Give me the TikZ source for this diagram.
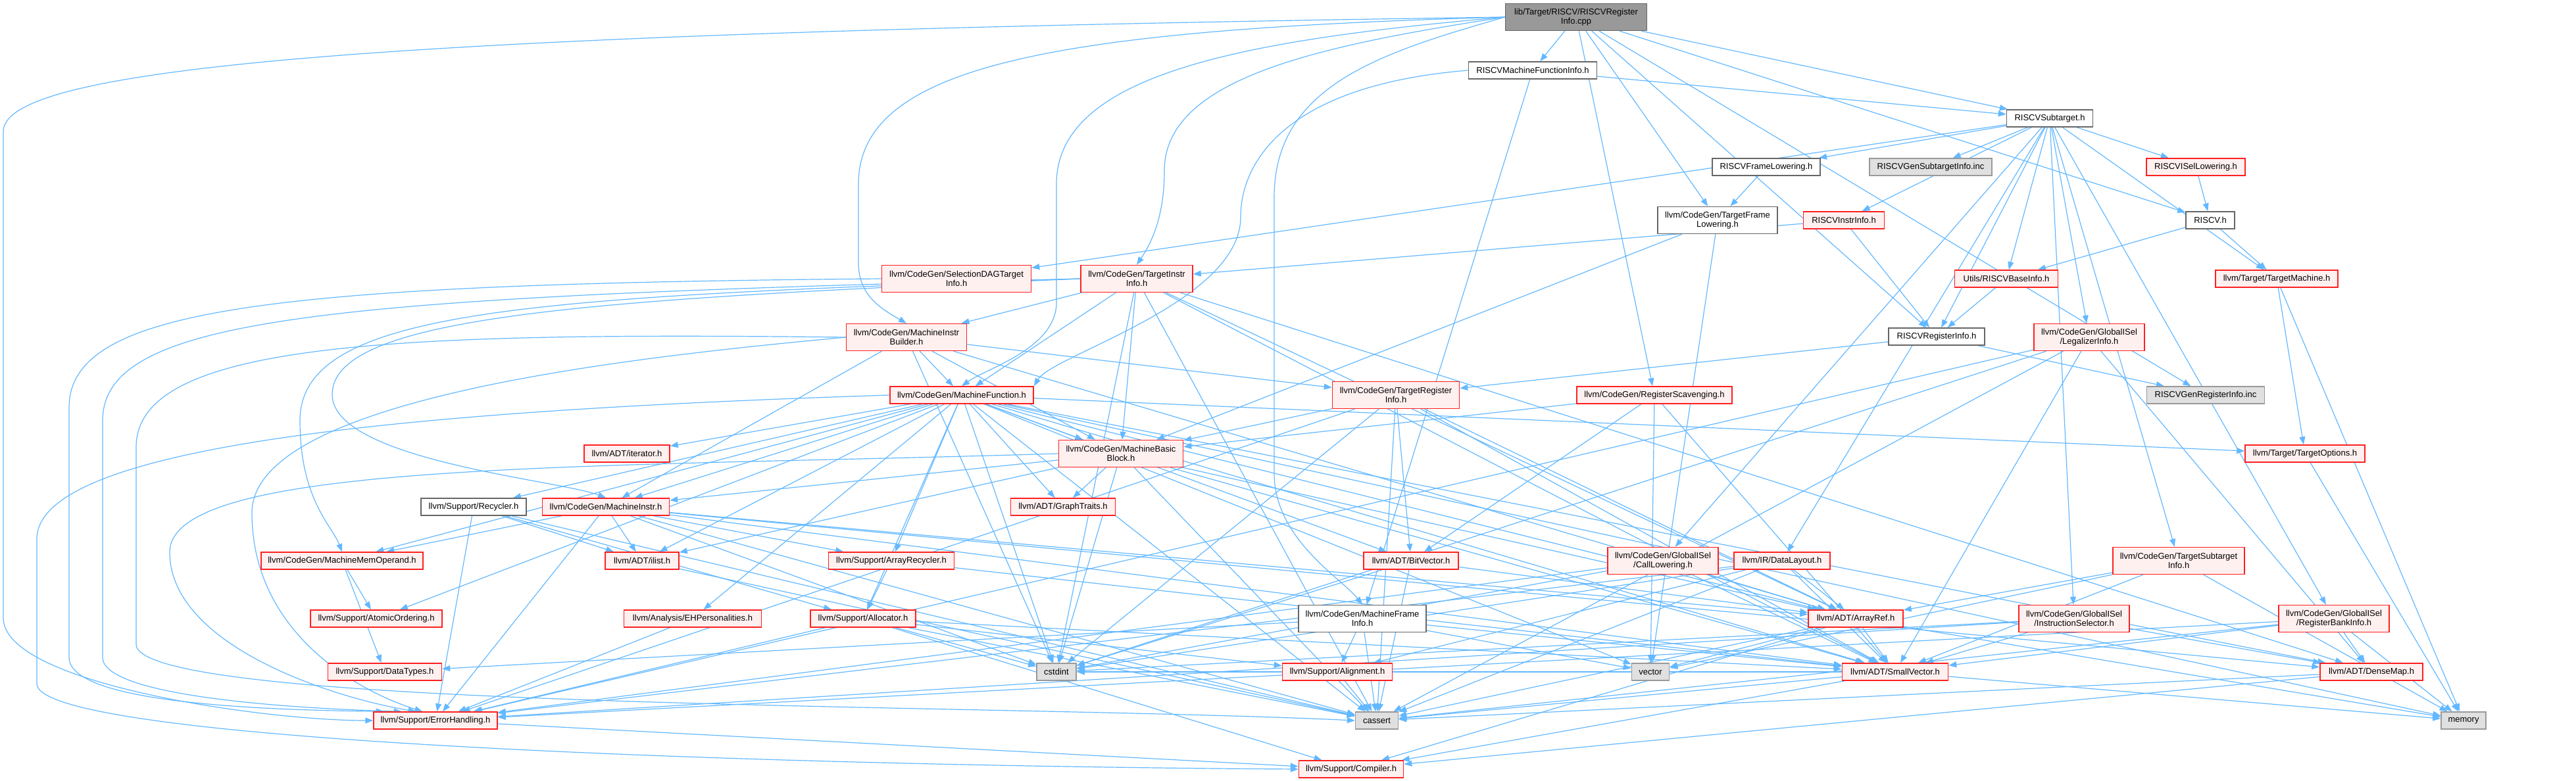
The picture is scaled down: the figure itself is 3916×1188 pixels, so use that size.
\documentclass[tikz,border=0pt]{standalone}
\usepackage{fontspec}
\setmainfont{Liberation Sans}
\usetikzlibrary{arrows.meta}
\definecolor{edgec}{HTML}{63B8FF}
\definecolor{redb}{HTML}{FF2020}
\definecolor{redf}{HTML}{FFF0F0}
\definecolor{grayb}{HTML}{666666}
\definecolor{grayf}{HTML}{999999}
\definecolor{lgrayb}{HTML}{999999}
\definecolor{lgrayf}{HTML}{E0E0E0}
\pgfdeclarelayer{bg}
\pgfsetlayers{bg,main}
\tikzset{
  nd/.style={draw, line width=1.5pt, inner sep=0pt, minimum height=26pt, align=center,
    font=\fontsize{13}{14.5}\selectfont},
  tall/.style={minimum height=41pt},
  nred/.style={nd, draw=redb, fill=redf},
  nwhite/.style={nd, draw=grayb, fill=white},
  nroot/.style={nd, draw=grayb, fill=grayf},
  ngray/.style={nd, draw=lgrayb, fill=lgrayf},
  ed/.style={draw=edgec, line width=1.2pt, -{Triangle[length=12pt,width=9pt]}}
}
\begin{document}
\begin{tikzpicture}[x=1pt,y=-1pt]
\useasboundingbox (0,0) rectangle (3916,1188);
% nodes
\node[nroot, tall, minimum width=215pt] (root) at (2396,26) {lib/Target/RISCV/RISCVRegister\\Info.cpp};
\node[nwhite, minimum width=195pt] (rmfi) at (2330,107) {RISCVMachineFunctionInfo.h};
\node[nwhite, minimum width=131pt] (rst) at (3116,180) {RISCVSubtarget.h};
\node[nwhite, minimum width=164pt] (rfl) at (2685,254) {RISCVFrameLowering.h};
\node[ngray, minimum width=186pt] (rgsi) at (2935,254) {RISCVGenSubtargetInfo.inc};
\node[nred, minimum width=150pt] (risl) at (3338,254) {RISCVISelLowering.h};
\node[nwhite, tall, minimum width=182pt] (tfl) at (2611,335) {llvm/CodeGen/TargetFrame\\Lowering.h};
\node[nred, minimum width=123pt] (rii) at (2803,335) {RISCVInstrInfo.h};
\node[nwhite, minimum width=74pt] (riscv) at (3360,335) {RISCV.h};
\node[nred, tall, minimum width=227pt] (sdti) at (1454,424) {llvm/CodeGen/SelectionDAGTarget\\Info.h};
\node[nred, tall, minimum width=170pt] (tii) at (1728,424) {llvm/CodeGen/TargetInstr\\Info.h};
\node[nred, minimum width=157pt] (rbi) at (3050,424) {Utils/RISCVBaseInfo.h};
\node[nred, minimum width=186pt] (tm) at (3461,424) {llvm/Target/TargetMachine.h};
\node[nred, tall, minimum width=183pt] (mib) at (1378,513) {llvm/CodeGen/MachineInstr\\Builder.h};
\node[nwhite, minimum width=146pt] (rri) at (2944,512) {RISCVRegisterInfo.h};
\node[nred, tall, minimum width=168pt] (li) at (3176,513) {llvm/CodeGen/GlobalISel\\/LegalizerInfo.h};
\node[nred, tall, minimum width=193pt] (trgi) at (2122,601) {llvm/CodeGen/TargetRegister\\Info.h};
\node[nred, minimum width=236pt] (rs) at (2515,601) {llvm/CodeGen/RegisterScavenging.h};
\node[ngray, minimum width=179pt] (rgri) at (3353,601) {RISCVGenRegisterInfo.inc};
\node[nred, minimum width=218pt] (mf) at (1462,601) {llvm/CodeGen/MachineFunction.h};
\node[nred, minimum width=130pt] (iter) at (953,690) {llvm/ADT/iterator.h};
\node[nred, minimum width=182pt] (tops) at (3504,690) {llvm/Target/TargetOptions.h};
\node[nred, tall, minimum width=189pt] (mbb) at (1704,690) {llvm/CodeGen/MachineBasic\\Block.h};
\node[nwhite, minimum width=160pt] (rec) at (720,771) {llvm/Support/Recycler.h};
\node[nred, minimum width=193pt] (mi) at (921,771) {llvm/CodeGen/MachineInstr.h};
\node[nred, minimum width=159pt] (gt) at (1616,771) {llvm/ADT/GraphTraits.h};
\node[nred, minimum width=246pt] (mmo) at (520,853) {llvm/CodeGen/MachineMemOperand.h};
\node[nred, minimum width=112pt] (ilist) at (976,853) {llvm/ADT/ilist.h};
\node[nred, minimum width=191pt] (arec) at (1355,853) {llvm/Support/ArrayRecycler.h};
\node[nred, minimum width=144pt] (bv) at (2145,853) {llvm/ADT/BitVector.h};
\node[nred, tall, minimum width=168pt] (cl) at (2528,853) {llvm/CodeGen/GlobalISel\\/CallLowering.h};
\node[nred, minimum width=146pt] (dl) at (2709,853) {llvm/IR/DataLayout.h};
\node[nred, tall, minimum width=200pt] (tsi) at (3312,853) {llvm/CodeGen/TargetSubtarget\\Info.h};
\node[nred, minimum width=200pt] (ao) at (572,941) {llvm/Support/AtomicOrdering.h};
\node[nred, minimum width=209pt] (ehp) at (1053,941) {llvm/Analysis/EHPersonalities.h};
\node[nred, minimum width=160pt] (alloc) at (1312,941) {llvm/Support/Allocator.h};
\node[nwhite, tall, minimum width=194pt] (mfi) at (2071,941) {llvm/CodeGen/MachineFrame\\Info.h};
\node[nred, minimum width=144pt] (ar) at (2821,941) {llvm/ADT/ArrayRef.h};
\node[nred, tall, minimum width=168pt] (is) at (3153,941) {llvm/CodeGen/GlobalISel\\/InstructionSelector.h};
\node[nred, tall, minimum width=168pt] (rbki) at (3548,941) {llvm/CodeGen/GlobalISel\\/RegisterBankInfo.h};
\node[nred, minimum width=173pt] (dt) at (585,1022) {llvm/Support/DataTypes.h};
\node[ngray, minimum width=60pt] (cstdint) at (1606,1022) {cstdint};
\node[nred, minimum width=167pt] (align) at (2033,1022) {llvm/Support/Alignment.h};
\node[ngray, minimum width=57pt] (vector) at (2509,1022) {vector};
\node[nred, minimum width=161pt] (sv) at (2881,1022) {llvm/ADT/SmallVector.h};
\node[nred, minimum width=156pt] (dm) at (3605,1022) {llvm/ADT/DenseMap.h};
\node[nred, minimum width=188pt] (eh) at (662,1096) {llvm/Support/ErrorHandling.h};
\node[ngray, minimum width=65pt] (cassert) at (2093,1096) {cassert};
\node[ngray, minimum width=68pt] (memory) at (3745,1096) {memory};
\node[nred, minimum width=159pt] (comp) at (2054,1170) {llvm/Support/Compiler.h};
% edges
\begin{pgfonlayer}{bg}
\foreach \a/\b in {
 root/rmfi, root/rst, root/riscv, root/rri, root/tfl, root/rs, root/rgri,
 rmfi/rst, rmfi/mfi,
 rst/rfl, rst/rgsi, rst/risl, rst/rii, rst/rbi, rst/tm, rst/li, rst/cl, rst/is, rst/rbki, rst/tsi, rst/dl, rst/sdti, rst/rri,
 risl/riscv, riscv/rbi, riscv/tm, rfl/tfl, rii/rri, rii/tii, rbi/rri, tm/tops, tm/memory,
 rri/trgi, rri/rgri,
 li/sv, li/dm, li/cstdint, li/eh, li/cassert,
 tfl/mbb, tfl/vector,
 tii/mib, tii/mf, tii/mbb, tii/ar, tii/dm, tii/sv, tii/cassert, tii/cstdint,
 mib/mf, mib/mbb, mib/mi, mib/trgi, mib/ar, mib/cstdint,
 mf/ar, mf/bv, mf/dm, mf/gt, mf/sv, mf/ilist, mf/iter, mf/ehp, mf/mbb, mf/mi, mf/mmo, mf/alloc, mf/arec, mf/ao,
 mf/rec, mf/tops, mf/cassert, mf/cstdint, mf/memory, mf/vector,
 mbb/gt, mbb/mi, mbb/ilist, mbb/cstdint, mbb/cassert, mbb/ar, mbb/sv,
 mi/mmo, mi/ilist, mi/arec, mi/ar, mi/dm, mi/sv, mi/cassert, mi/cstdint, mi/eh,
 rec/ilist, rec/alloc, rec/eh, rec/cassert,
 mmo/ao, mmo/dt, ilist/cassert, arec/alloc, arec/sv,
 alloc/align, alloc/cstdint, alloc/eh, alloc/comp, alloc/cassert, alloc/sv,
 ehp/eh,
 trgi/mbb, trgi/ar, trgi/bv, trgi/sv, trgi/cassert, trgi/cstdint, trgi/eh,
 rs/mbb, rs/bv, rs/sv, rs/vector,
 mfi/align, mfi/cassert, mfi/sv, mfi/vector, mfi/dt,
 align/cassert, bv/ar, bv/cassert, bv/cstdint,
 cl/ar, cl/sv, cl/cstdint, cl/eh,
 dl/ar, dl/sv, dl/align, dl/cassert, dl/eh, dl/cstdint,
 ar/sv, ar/comp, ar/vector, ar/cassert, ar/memory,
 sv/comp, sv/cassert, sv/cstdint, sv/memory,
 dm/cassert, dm/comp,
 tsi/ar, tsi/sv, tsi/memory, tsi/vector,
 is/dm, is/sv, is/cstdint, is/eh,
 rbki/dm, rbki/sv, rbki/eh, rbki/cassert, rbki/memory,
 tops/memory, eh/comp}
 \draw[ed] (\a) -- (\b);
% routed edges from the root and RISCVMachineFunctionInfo.h
\draw[ed] (root.west) .. controls (1600,45) and (1305,100) .. (1305,280) -- (1305,400) .. controls (1305,450) and (1340,470) .. (mib.north);
\draw[ed] (root.west) .. controls (1900,60) and (1606,110) .. (1606,280) -- (1606,460) .. controls (1606,530) and (1500,560) .. (mf.north);
\draw[ed] (root.west) .. controls (2000,70) and (1770,120) .. (1770,260) .. controls (1770,330) and (1750,370) .. (tii.north);
\draw[ed] (root.west) .. controls (2100,80) and (1937,130) .. (1937,300) -- (1937,720) .. controls (1937,820) and (2040,880) .. (mfi.north);
\draw[ed] (rmfi.west) .. controls (1950,130) and (1886,250) .. (1886,330) .. controls (1886,460) and (1600,540) .. (mf.north east);
% routed edges around the left side
\draw[ed] (root.west) .. controls (600,50) and (5,100) .. (5,200) -- (5,940) .. controls (5,1040) and (400,1096) .. (eh.west);
\draw[ed] (mf.west) .. controls (600,625) and (56,680) .. (56,820) -- (56,1040) .. controls (56,1130) and (1200,1165) .. (comp.west);
\draw[ed] (sdti.west) .. controls (400,432) and (105,470) .. (105,620) -- (105,1000) .. controls (105,1070) and (400,1080) .. (eh.170);
\draw[ed] (tii.west) .. controls (500,452) and (156,480) .. (156,640) -- (156,1000) .. controls (156,1060) and (450,1078) .. (eh.165);
\draw[ed] (mib.west) .. controls (600,505) and (207,520) .. (207,680) -- (207,980) .. controls (207,1080) and (1500,1070) .. (cassert.west);
\draw[ed] (mbb.west) .. controls (900,712) and (258,700) .. (258,840) .. controls (258,980) and (500,1060) .. (eh.155);
\draw[ed] (mib.west) .. controls (1000,540) and (383,600) .. (383,780) .. controls (383,960) and (540,1050) .. (eh.145);
\draw[ed] (tii.west) .. controls (800,452) and (456,470) .. (456,640) .. controls (456,760) and (505,800) .. (mmo.north);
\draw[ed] (tii.west) .. controls (900,455) and (505,480) .. (505,600) .. controls (505,700) and (850,730) .. (mi.north);
\end{pgfonlayer}
\end{tikzpicture}
\end{document}
